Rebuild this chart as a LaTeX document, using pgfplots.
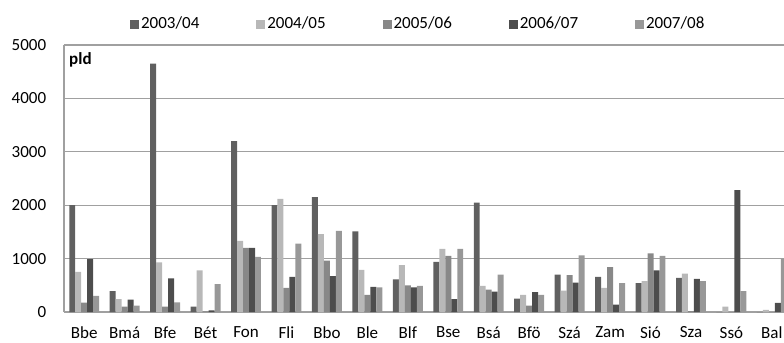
\documentclass[border=0pt]{standalone}
\usepackage{fontspec}
\setmainfont{Carlito}
\usepackage{pgfplots}
\pgfplotsset{compat=1.18}
\definecolor{cA}{RGB}{96,96,96}
\definecolor{cB}{RGB}{184,184,184}
\definecolor{cC}{RGB}{136,136,136}
\definecolor{cD}{RGB}{77,77,77}
\definecolor{cE}{RGB}{152,152,152}
\definecolor{gridgray}{RGB}{160,160,160}
\begin{document}
\fontsize{17bp}{20bp}\selectfont
\begin{tikzpicture}
\begin{axis}[
  scale only axis,
  width=720bp, height=267bp,
  xmin=-0.5, xmax=17.3,
  ymin=0, ymax=5000,
  axis lines*=left,
  axis line style={gridgray, line width=1.2bp},
  ymajorgrids,
  grid style={gridgray, line width=1.2bp},
  major tick length=0pt,
  ytick={0,1000,2000,3000,4000,5000},
  xtick={0,...,17},
  xticklabels={Bbe,Bmá,Bfe,Bét,Fon,Fli,Bbo,Ble,Blf,Bse,Bsá,Bfö,Szá,Zam,Sió,Sza,Ssó,Bal},
  scaled ticks=false,
  /pgf/number format/1000 sep={},
  /pgf/number format/assume math mode=true,
  tick label style={font=\fontsize{17bp}{20bp}\selectfont},
  yticklabel style={xshift=-12bp},
  xticklabel style={yshift=-9bp},
  ybar, bar width=0.148,
  legend columns=5,
  legend style={draw=none, fill=none, at={(0.492,1)}, anchor=center, yshift=21bp,
    font=\fontsize{17bp}{20bp}\selectfont,
    /tikz/every even column/.append style={column sep=55bp}},
  legend image code/.code={\fill[#1] (0bp,-4.5bp) rectangle (9bp,4.5bp);},
  clip=true,
]
\addplot[fill=cA, draw=none, bar shift=-0.296] coordinates {(0,2000)(1,390)(2,4650)(3,100)(4,3200)(5,2000)(6,2150)(7,1510)(8,610)(9,940)(10,2050)(11,250)(12,700)(13,660)(14,540)(15,640)(16,0)(17,0)};
\addplot[fill=cB, draw=none, bar shift=-0.148] coordinates {(0,750)(1,240)(2,930)(3,780)(4,1330)(5,2120)(6,1460)(7,790)(8,880)(9,1180)(10,490)(11,320)(12,400)(13,450)(14,580)(15,720)(16,100)(17,40)};
\addplot[fill=cC, draw=none, bar shift=0] coordinates {(0,175)(1,100)(2,100)(3,10)(4,1200)(5,450)(6,960)(7,320)(8,500)(9,1050)(10,420)(11,120)(12,690)(13,840)(14,1100)(15,15)(16,0)(17,0)};
\addplot[fill=cD, draw=none, bar shift=0.148] coordinates {(0,990)(1,230)(2,630)(3,30)(4,1200)(5,660)(6,670)(7,470)(8,460)(9,240)(10,380)(11,370)(12,550)(13,140)(14,780)(15,620)(16,2280)(17,170)};
\addplot[fill=cE, draw=none, bar shift=0.296] coordinates {(0,300)(1,120)(2,180)(3,520)(4,1030)(5,1280)(6,1520)(7,460)(8,490)(9,1180)(10,700)(11,320)(12,1060)(13,540)(14,1050)(15,580)(16,390)(17,1000)};
\legend{2003/04,2004/05,2005/06,2006/07,2007/08}
\node[anchor=north west, inner sep=0pt, font=\bfseries\fontsize{17bp}{20bp}\selectfont] at (rel axis cs:0,1) [xshift=5bp, yshift=-7bp] {pld};
\end{axis}
\pgfresetboundingbox
\path ([xshift=-64bp,yshift=-31bp]current axis.south west) rectangle ([yshift=45bp]current axis.north east);
\end{tikzpicture}
\end{document}
